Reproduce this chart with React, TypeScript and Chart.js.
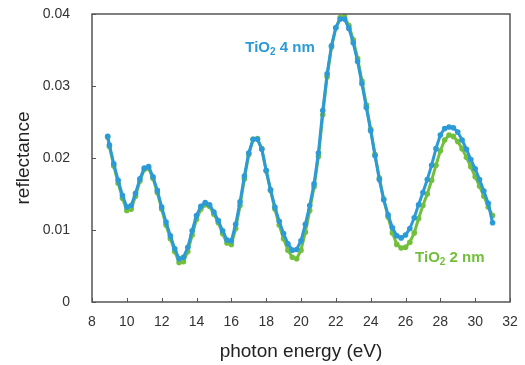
import React, { useEffect, useRef } from "react";
import { Chart, registerables } from "chart.js";

Chart.register(...registerables);

const energies = [
  8.9, 9.0, 9.25, 9.5, 9.75, 10.0, 10.25, 10.5, 10.75, 11.0, 11.25, 11.5, 11.75,
  12.0, 12.25, 12.5, 12.75, 13.0, 13.25, 13.5, 13.75, 14.0, 14.25, 14.5, 14.75,
  15.0, 15.25, 15.5, 15.75, 16.0, 16.25, 16.5, 16.75, 17.0, 17.25, 17.5, 17.75,
  18.0, 18.25, 18.5, 18.75, 19.0, 19.25, 19.5, 19.75, 20.0, 20.25, 20.5, 20.75,
  21.0, 21.25, 21.5, 21.75, 22.0, 22.25, 22.5, 22.75, 23.0, 23.25, 23.5, 23.75,
  24.0, 24.25, 24.5, 24.75, 25.0, 25.25, 25.5, 25.75, 26.0, 26.25, 26.5, 26.75,
  27.0, 27.25, 27.5, 27.75, 28.0, 28.25, 28.5, 28.75, 29.0, 29.25, 29.5, 29.75,
  30.0, 30.25, 30.5, 30.75, 31.0,
];

const tio2_4nm = [
  0.0230, 0.0218, 0.0192, 0.0169, 0.0148, 0.0132, 0.0134, 0.0151, 0.0171, 0.0186, 0.0188, 0.0174, 0.0155,
  0.0132, 0.0111, 0.0092, 0.0074, 0.0060, 0.0062, 0.0076, 0.0099, 0.0120, 0.0133, 0.0138, 0.0135,
  0.0125, 0.0113, 0.0099, 0.0086, 0.0085, 0.0108, 0.0139, 0.0175, 0.0207, 0.0226, 0.0226, 0.0212,
  0.0183, 0.0156, 0.0132, 0.0112, 0.0095, 0.0081, 0.0072, 0.0073, 0.0085, 0.0108, 0.0134, 0.0164,
  0.0207, 0.0266, 0.0317, 0.0356, 0.0381, 0.0393, 0.0393, 0.0380, 0.0360, 0.0334, 0.0303, 0.0270,
  0.0238, 0.0203, 0.0170, 0.0142, 0.0121, 0.0103, 0.0092, 0.0089, 0.0093, 0.0102, 0.0117, 0.0135,
  0.0152, 0.0170, 0.0190, 0.0213, 0.0232, 0.0241, 0.0243, 0.0242, 0.0236, 0.0225, 0.0212, 0.0198,
  0.0185, 0.0170, 0.0154, 0.0137, 0.0110,
];

const tio2_2nm = [
  0.0229, 0.0216, 0.0189, 0.0165, 0.0144, 0.0127, 0.0129, 0.0147, 0.0168, 0.0184, 0.0186, 0.0172, 0.0152,
  0.0129, 0.0107, 0.0088, 0.0070, 0.0055, 0.0056, 0.0070, 0.0093, 0.0115, 0.0129, 0.0135, 0.0133,
  0.0122, 0.0110, 0.0095, 0.0082, 0.0080, 0.0102, 0.0134, 0.0171, 0.0205, 0.0226, 0.0227, 0.0213,
  0.0182, 0.0155, 0.0129, 0.0107, 0.0088, 0.0072, 0.0062, 0.0060, 0.0072, 0.0097, 0.0127, 0.0160,
  0.0202, 0.0260, 0.0313, 0.0354, 0.0381, 0.0395, 0.0396, 0.0384, 0.0364, 0.0338, 0.0307, 0.0274,
  0.0240, 0.0205, 0.0172, 0.0143, 0.0118, 0.0096, 0.0080, 0.0075, 0.0076, 0.0083, 0.0096, 0.0116,
  0.0134, 0.0150, 0.0169, 0.0190, 0.0210, 0.0225, 0.0232, 0.0230, 0.0223, 0.0213, 0.0201, 0.0188,
  0.0174, 0.0161, 0.0147, 0.0132, 0.0120,
];

const xTitle = "photon energy (eV)";
const yTitle = "reflectance";
const seriesLabels = ["TiO₂ 4 nm", "TiO₂ 2 nm"];

const BLUE = "#2b9ad6";
const GREEN = "#72bf3c";
const FONT = "'Liberation Sans', Arial, Helvetica, sans-serif";

const boxPlugin = {
  id: "boxAndTicks",
  afterDatasetsDraw(chart: any) {
    const { ctx, chartArea, scales } = chart;
    const { left, right, top, bottom } = chartArea;
    ctx.save();
    ctx.strokeStyle = "#555";
    ctx.lineWidth = 1.5;
    ctx.strokeRect(left, top, right - left, bottom - top);
    ctx.beginPath();
    ctx.lineWidth = 1;
    scales.x.ticks.forEach((t: any) => {
      const px = Math.round(scales.x.getPixelForValue(t.value)) + 0.5;
      ctx.moveTo(px, bottom);
      ctx.lineTo(px, bottom - 4);
    });
    scales.y.ticks.forEach((t: any) => {
      const py = Math.round(scales.y.getPixelForValue(t.value)) + 0.5;
      ctx.moveTo(left, py);
      ctx.lineTo(left + 4, py);
    });
    ctx.stroke();

    const drawLabel = (xv: number, yv: number, num: string, color: string) => {
      let px = scales.x.getPixelForValue(xv);
      const py = scales.y.getPixelForValue(yv);
      ctx.fillStyle = color;
      ctx.textBaseline = "middle";
      ctx.textAlign = "left";
      ctx.font = `bold 15px ${FONT}`;
      ctx.fillText("TiO", px, py);
      px += ctx.measureText("TiO").width;
      ctx.font = `bold 10px ${FONT}`;
      ctx.fillText("2", px, py + 4);
      px += ctx.measureText("2").width;
      ctx.font = `bold 15px ${FONT}`;
      ctx.fillText(` ${num} nm`, px, py);
    };
    drawLabel(16.8, 0.0353, "4", BLUE);
    drawLabel(26.55, 0.0061, "2", GREEN);
    ctx.restore();
  },
};

export default function App() {
  const ref = useRef<HTMLCanvasElement | null>(null);
  useEffect(() => {
    document.body.style.margin = "0";
    const canvas = ref.current!;
    const chart = new Chart(canvas, {
      type: "line",
      data: {
        datasets: [
          {
            label: seriesLabels[0],
            data: energies.map((e, i) => ({ x: e, y: tio2_4nm[i] })),
            borderColor: BLUE,
            backgroundColor: BLUE,
            borderWidth: 3,
            pointRadius: 2.8,
            pointBorderWidth: 0,
            tension: 0,
            order: 0,
          },
          {
            label: seriesLabels[1],
            data: energies.map((e, i) => ({ x: e, y: tio2_2nm[i] })),
            borderColor: GREEN,
            backgroundColor: GREEN,
            borderWidth: 3,
            pointRadius: 2.8,
            pointBorderWidth: 0,
            tension: 0,
            order: 1,
          },
        ],
      },
      options: {
        animation: false,
        responsive: false,
        maintainAspectRatio: false,
        clip: false as any,
        layout: { padding: { left: 0, top: 14, right: 15, bottom: 0 } },
        plugins: { legend: { display: false }, tooltip: { enabled: false } },
        scales: {
          x: {
            type: "linear",
            min: 8,
            max: 32,
            grid: { display: false, drawTicks: false },
            border: { display: false },
            ticks: {
              stepSize: 2,
              color: "#333",
              padding: 12,
              maxRotation: 0,
              font: { family: FONT, size: 14 },
            },
            title: {
              display: true,
              text: xTitle,
              color: "#222",
              font: { family: FONT, size: 19 },
              padding: { top: 0, bottom: 2 },
            },
            afterFit(scale: any) {
              scale.height = 63;
              scale.paddingLeft = 0;
              scale.paddingRight = 0;
            },
          },
          y: {
            min: 0,
            max: 0.04,
            grid: { display: false, drawTicks: false },
            border: { display: false },
            ticks: {
              stepSize: 0.01,
              color: "#333",
              padding: 22,
              font: { family: FONT, size: 14 },
              callback: (v: any) => (v === 0 ? "0" : Number(v).toFixed(2)),
            },
            title: {
              display: true,
              text: yTitle,
              color: "#222",
              font: { family: FONT, size: 19 },
              padding: { top: 12, bottom: 0 },
            },
            afterFit(scale: any) {
              scale.width = 92;
              scale.paddingTop = 0;
              scale.paddingBottom = 0;
            },
          },
        },
      },
      plugins: [boxPlugin],
    });
    return () => chart.destroy();
  }, []);
  return (
    <div style={{ position: "fixed", left: 0, top: 0, width: 525, height: 365, background: "#fff" }}>
      <canvas ref={ref} width={525} height={365} />
    </div>
  );
}
